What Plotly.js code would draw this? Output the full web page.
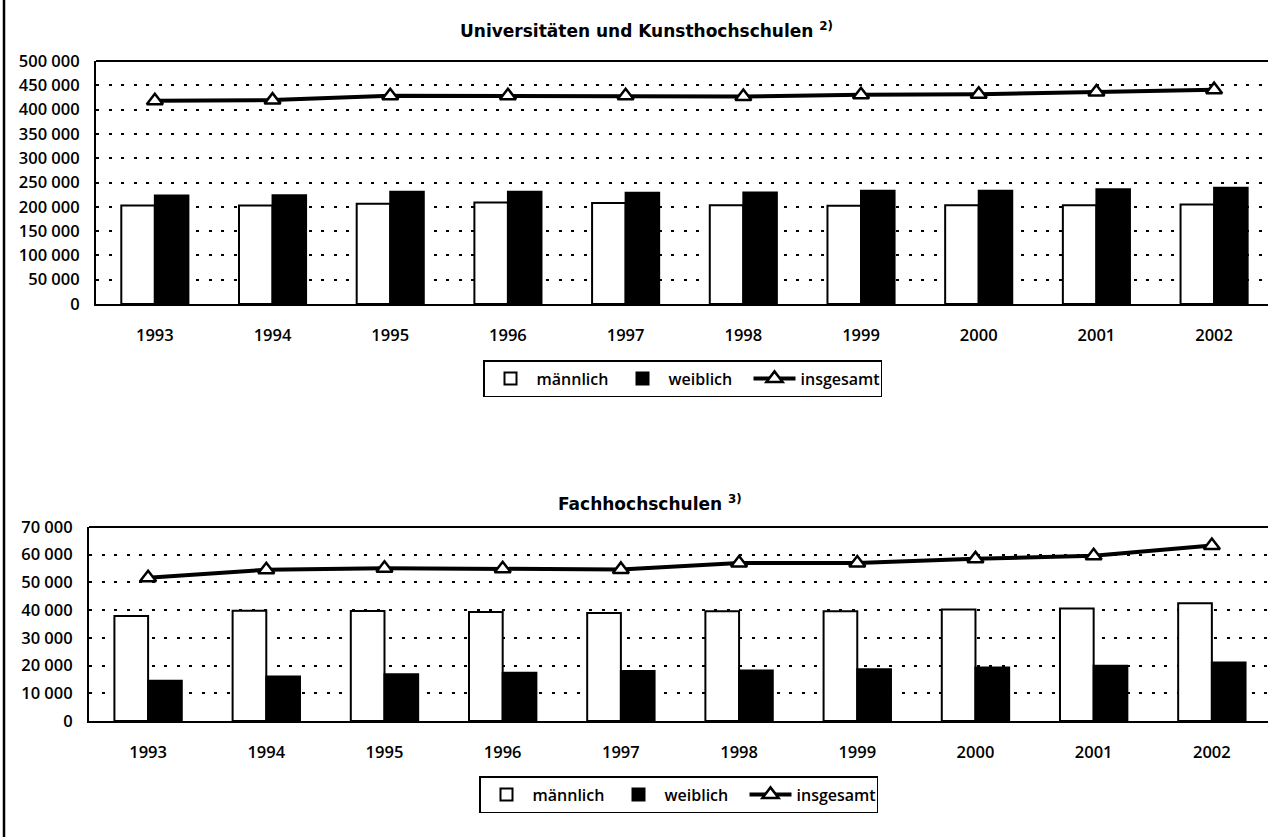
<!DOCTYPE html>
<html>
<head>
<meta charset="utf-8">
<script src="https://cdn.plot.ly/plotly-3.0.1.min.js"></script>
<style>
html, body { margin: 0; padding: 0; background: #fff; }
#chart { width: 1268px; height: 837px; }
</style>
</head>
<body>
<div id="chart"></div>
<script>
// ---- data ----
const years = ["1993", "1994", "1995", "1996", "1997", "1998", "1999", "2000", "2001", "2002"];
const seriesNames = ["männlich", "weiblich", "insgesamt"];

const uniTitle = "Universitäten und Kunsthochschulen <sup>2)</sup>";
const uniMale   = [202500, 202500, 206500, 209000, 208000, 203000, 202000, 203000, 203000, 204500];
const uniFemale = [223000, 224000, 231000, 231000, 229000, 229500, 233000, 233000, 236000, 239000];
const uniTotal  = [418000, 419500, 428500, 428500, 428500, 427000, 430500, 431500, 436000, 441000];

const fhTitle = "Fachhochschulen <sup>3)</sup>";
const fhMale   = [37900, 39800, 39700, 39300, 39000, 39600, 39600, 40200, 40600, 42500];
const fhFemale = [14500, 16100, 16900, 17400, 18000, 18200, 18700, 19300, 19900, 21100];
const fhTotal  = [51700, 54600, 55100, 54900, 54700, 57000, 57000, 58500, 59600, 63300];

// ---- styles ----
const W = 1268, H = 837;
const baseFont = { family: "Open Sans, DejaVu Sans, sans-serif", size: 16.5, color: "#000", weight: 600 };
const legendFont = { family: "Open Sans, DejaVu Sans, sans-serif", size: 16, color: "#000", weight: 600 };
const titleFont = { family: "DejaVu Sans, sans-serif", size: 17, color: "#000", weight: "bold" };

function traces(male, female, total, xa, ya, leg) {
  return [
    { type: "bar", x: years, y: male, name: seriesNames[0], xaxis: xa, yaxis: ya, legend: leg,
      marker: { color: "#fff", line: { color: "#000", width: 2 } } },
    { type: "bar", x: years, y: female, name: seriesNames[1], xaxis: xa, yaxis: ya, legend: leg,
      marker: { color: "#000", line: { color: "#000", width: 2 } } },
    { type: "scatter", mode: "lines+markers", x: years, y: total, name: seriesNames[2], xaxis: xa, yaxis: ya, legend: leg,
      line: { color: "#000", width: 4 },
      marker: { symbol: "triangle-up", size: 14, color: "#fff", line: { color: "#000", width: 2.5 } } }
  ];
}

const data = [].concat(
  traces(uniMale, uniFemale, uniTotal, "x", "y", "legend"),
  traces(fhMale, fhFemale, fhTotal, "x2", "y2", "legend2")
);

function xAxis(domain, range, anchor) {
  return {
    domain: domain, anchor: anchor, type: "category", range: range,
    showline: true, linecolor: "#000", linewidth: 2,
    ticks: "outside", ticklen: 15, tickcolor: "rgba(0,0,0,0)",
    showgrid: false, zeroline: false, tickfont: baseFont, fixedrange: true
  };
}
function yAxis(domain, range, dtick, anchor) {
  return {
    domain: domain, anchor: anchor, range: range, tickmode: "linear", tick0: 0, dtick: dtick,
    tickformat: ",", showline: true, linecolor: "#000", linewidth: 2,
    ticks: "outside", ticklen: 11, tickcolor: "rgba(0,0,0,0)",
    showgrid: true, gridcolor: "#000", gridwidth: 2, griddash: "3px,9.5px",
    zeroline: false, tickfont: baseFont, fixedrange: true
  };
}

const legendBase = {
  orientation: "h", xanchor: "left", yanchor: "top",
  bordercolor: "#000", borderwidth: 1.5, bgcolor: "#fff",
  font: legendFont, traceorder: "normal", itemwidth: 42,
  entrywidth: 75, entrywidthmode: "pixels"
};

const layout = {
  width: W, height: H,
  margin: { l: 0, r: 0, t: 0, b: 0 },
  paper_bgcolor: "#fff", plot_bgcolor: "rgba(0,0,0,0)",
  separators: ", ",
  barmode: "group", bargap: 0.43, bargroupgap: 0,
  font: baseFont,
  showlegend: true,
  xaxis: xAxis([96 / W, 1], [-0.5, 9.458], "y"),
  yaxis: yAxis([1 - 304 / H, 1 - 61 / H], [0, 500000], 50000, "x"),
  xaxis2: xAxis([89 / W, 1], [-0.5, 9.475], "y2"),
  yaxis2: yAxis([1 - 721 / H, 1 - 527 / H], [0, 70000], 10000, "x2"),
  legend: Object.assign({}, legendBase, { x: 483 / W, y: 1 - 360 / H }),
  legend2: Object.assign({}, legendBase, { x: 479 / W, y: 1 - 776 / H }),
  annotations: [
    { text: uniTitle, xref: "paper", yref: "paper", x: 646 / W, y: 1 - 30 / H,
      xanchor: "center", yanchor: "middle", showarrow: false, font: titleFont },
    { text: fhTitle, xref: "paper", yref: "paper", x: 650 / W, y: 1 - 503 / H,
      xanchor: "center", yanchor: "middle", showarrow: false, font: titleFont }
  ],
  shapes: [
    { type: "line", xref: "x domain", yref: "y domain", x0: 0, x1: 1, y0: 1, y1: 1,
      line: { color: "#000", width: 2 } },
    { type: "line", xref: "x2 domain", yref: "y2 domain", x0: 0, x1: 1, y0: 1, y1: 1,
      line: { color: "#000", width: 2 } },
    { type: "line", xref: "paper", yref: "paper", x0: 4 / W, x1: 4 / W, y0: 0, y1: 1,
      line: { color: "#000", width: 2.5 } }
  ]
};

Plotly.newPlot("chart", data, layout, { staticPlot: true, displayModeBar: false });
</script>
</body>
</html>
